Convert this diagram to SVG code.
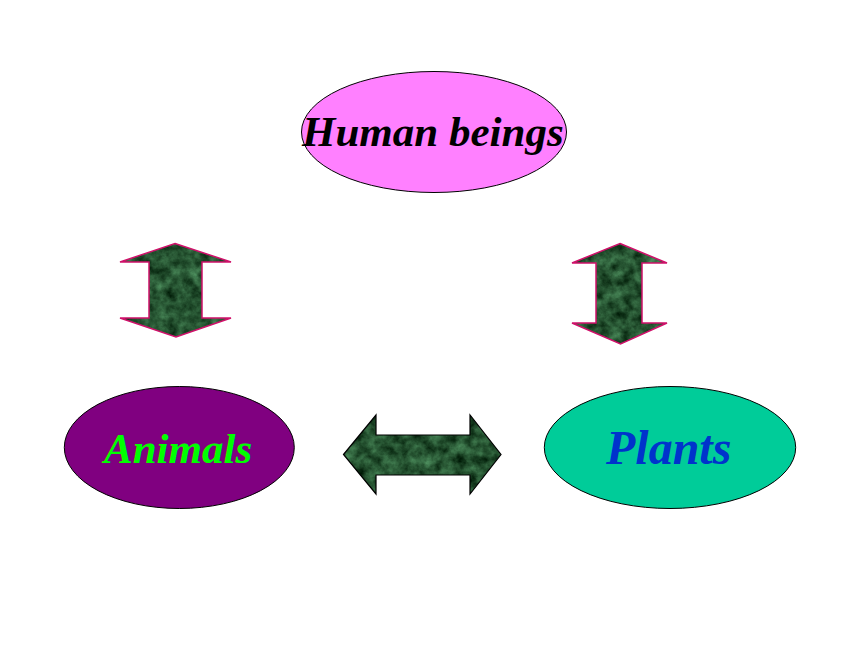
<svg xmlns="http://www.w3.org/2000/svg" width="860" height="645" viewBox="0 0 860 645">
<style>
.node{stroke:#000;stroke-width:1}
.lbl{font-family:"Liberation Serif","Times New Roman",serif;font-weight:bold;font-style:italic}
.marble{fill:#2a6a40;filter:url(#marble)}
.vedge{fill:none;stroke:#d0106a;stroke-width:1.5;stroke-linejoin:miter}
.hedge{fill:none;stroke:#000;stroke-width:1.2;stroke-linejoin:miter}
</style>
<defs>
<filter id="marble" x="0" y="0" width="100%" height="100%" color-interpolation-filters="sRGB">
<feTurbulence type="fractalNoise" baseFrequency="0.09" numOctaves="4" seed="7" result="n"/>
<feColorMatrix in="n" type="matrix" values="0.4 0 0 0 -0.05  0.6 0 0 0 0.03  0.45 0 0 0 -0.03  0 0 0 0 1" result="c"/>
<feComposite in="c" in2="SourceGraphic" operator="in"/>
</filter>
</defs>
<rect width="860" height="645" fill="#fff"/>
<g id="connectors">
<g id="arrow-human-animals">
<polygon class="marble" points="175,243.5 231,262 202,262 202,318 231,318 176,337 120,318 149,318 149,262 120,262"/>
<polygon class="vedge" points="175,243.5 231,262 202,262 202,318 231,318 176,337 120,318 149,318 149,262 120,262"/>
</g>
<g id="arrow-human-plants">
<polygon class="marble" points="620,243.5 667,263 642,263 642,323 667,323 620.5,344 572,323 596,323 596,263 572,263"/>
<polygon class="vedge" points="620,243.5 667,263 642,263 642,323 667,323 620.5,344 572,323 596,323 596,263 572,263"/>
</g>
<g id="arrow-animals-plants">
<polygon class="marble" points="343.5,454.5 376,415 376,435 470,435 470,415 501,454.5 470,494 470,475 376,475 376,494"/>
<polygon class="hedge" points="343.5,454.5 376,415 376,435 470,435 470,415 501,454.5 470,494 470,475 376,475 376,494"/>
</g>
</g>
<g id="human">
<ellipse class="node" cx="434" cy="132" rx="132.5" ry="60.5" fill="#ff80ff"/>
<text class="lbl" x="302" y="146" font-size="43" fill="#000">Human beings</text>
</g>
<g id="animals">
<ellipse class="node" cx="179.3" cy="447.5" rx="115" ry="61" fill="#800080"/>
<text class="lbl" x="104" y="462.5" font-size="43" fill="#00ff00">Animals</text>
</g>
<g id="plants">
<ellipse class="node" cx="670" cy="447.5" rx="125.7" ry="61" fill="#00cc99"/>
<text class="lbl" x="606" y="463.5" font-size="48" fill="#0033cc">Plants</text>
</g>
</svg>
